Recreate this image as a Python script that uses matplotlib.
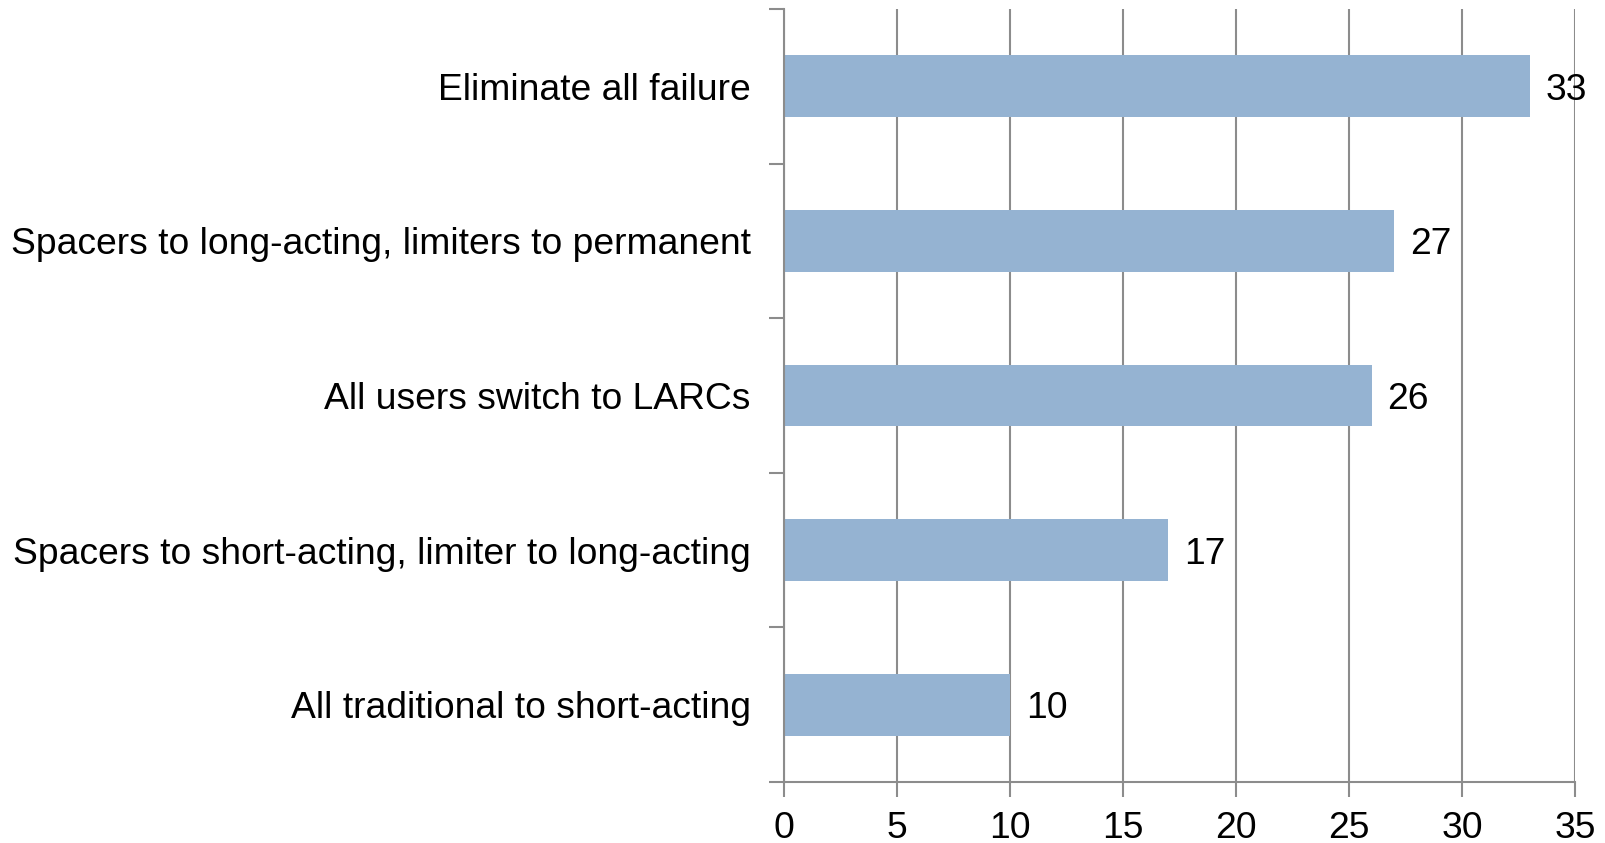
import matplotlib.pyplot as plt
import numpy as np

plt.rcParams['font.family'] = ['Liberation Sans', 'DejaVu Sans']

categories = [
    "All traditional to short-acting",
    "Spacers to short-acting, limiter to long-acting",
    "All users switch to LARCs",
    "Spacers to long-acting, limiters to permanent",
    "Eliminate all failure",
]
values = [10, 17, 26, 27, 33]
xticks = [0, 5, 10, 15, 20, 25, 30, 35]

fig = plt.figure(figsize=(16.06, 8.43), dpi=100)
ax = fig.add_axes([0.4882, 0.0724, 0.4925, 0.9169])

grid_c = '#8c8c8c'
fs = 26.8
y = np.arange(len(categories))
ax.barh(y, values, height=0.4, color='#95b3d2', zorder=2)

for yi, v in zip(y, values):
    ax.text(v + 0.7, yi, str(v), va='center_baseline', ha='left', fontsize=fs, zorder=3)

ax.set_xlim(0, 35)
ax.set_ylim(-0.5, len(categories) - 0.5)
ax.set_xticks(xticks)
ax.set_xticklabels([str(t) for t in xticks], fontsize=fs)
ax.set_yticks(y)
ax.set_yticklabels(categories, fontsize=fs)
ax.tick_params(axis='y', length=0, pad=24)
ax.set_yticks(np.arange(-0.5, len(categories), 1.0), minor=True)
ax.tick_params(axis='y', which='minor', length=11, width=1.5, color=grid_c)
ax.tick_params(axis='x', length=11, width=1.5, color=grid_c, pad=10)

ax.xaxis.grid(True, color=grid_c, linewidth=1.5, zorder=1)
ax.set_axisbelow(True)
for s in ['top', 'right']:
    ax.spines[s].set_visible(False)
for s in ['left', 'bottom']:
    ax.spines[s].set_color(grid_c)
    ax.spines[s].set_linewidth(1.5)

fig.savefig('out.png', dpi=100)
